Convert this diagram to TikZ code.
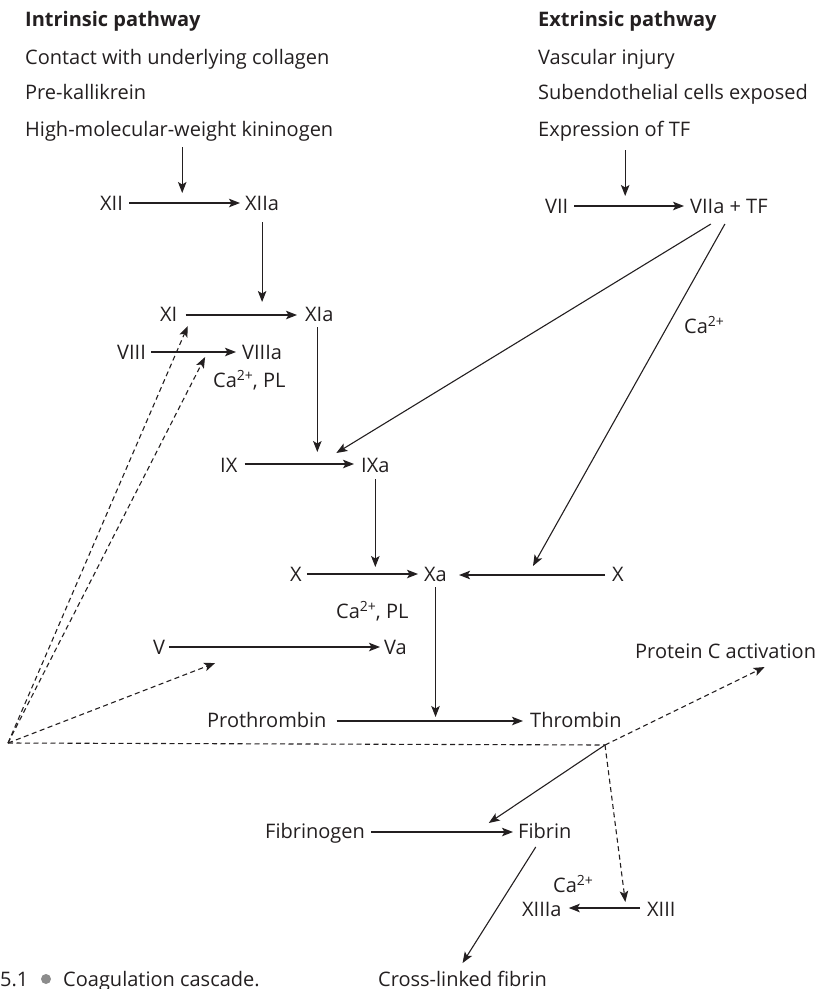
\documentclass[tikz,border=0pt]{standalone}
\usepackage{fontspec}
\setmainfont{Open Sans}
\usetikzlibrary{arrows.meta}
\definecolor{ink}{HTML}{231F20}
\definecolor{bulletgray}{HTML}{8C8C8C}
\newcommand{\catwo}{Ca\raisebox{0.62ex}{\fontsize{14}{14}\selectfont 2+}}
\begin{document}
\begin{tikzpicture}[x=1pt,y=-1pt,
  lbl/.style={anchor=base west, inner sep=0pt, text=ink, font=\fontsize{20}{24}\selectfont},
  hd/.style={lbl, font=\fontsize{20}{24}\selectfont\bfseries},
  arr/.style={draw=ink, line width=1.1pt, -{Stealth[length=11pt,width=8.5pt,inset=2.5pt]}},
  darr/.style={arr, dash pattern=on 5pt off 3.5pt},
  dline/.style={draw=ink, line width=1.1pt, dash pattern=on 5pt off 3.5pt},
]
\useasboundingbox (0,0) rectangle (815,989);
% headers
\node[hd] (intr) at (25,26) {Intrinsic pathway};
\node[lbl] (contact) at (25,64) {Contact with underlying collagen};
\node[lbl] (prek) at (25,99) {Pre-kallikrein};
\node[lbl] (hmwk) at (25,136) {High-molecular-weight kininogen};
\node[hd] (extr) at (538,26) {Extrinsic pathway};
\node[lbl] (vasc) at (538,64) {Vascular injury};
\node[lbl] (subendo) at (538,99) {Subendothelial cells exposed};
\node[lbl] (tf) at (538,136) {Expression of TF};
% factors
\node[lbl] (XII) at (100,210) {XII};
\node[lbl] (XIIa) at (245,210) {XIIa};
\node[lbl] (VII) at (545,213) {VII};
\node[lbl] (VIIa) at (690,213) {VIIa + TF};
\node[lbl] (XI) at (160,321) {XI};
\node[lbl] (XIa) at (305,321) {XIa};
\node[lbl] (VIII) at (117,359) {VIII};
\node[lbl] (VIIIa) at (242,359) {VIIIa};
\node[lbl] (caA) at (213,387) {\catwo, PL};
\node[lbl] (caB) at (684,333) {\catwo};
\node[lbl] (IX) at (220,472) {IX};
\node[lbl] (IXa) at (361,472) {IXa};
\node[lbl] (X) at (290,581) {X};
\node[lbl] (Xa) at (424,581) {Xa};
\node[lbl] (Xr) at (612,581) {X};
\node[lbl] (caC) at (336,618) {\catwo, PL};
\node[lbl] (V) at (153,654) {V};
\node[lbl] (Va) at (384,654) {Va};
\node[lbl] (prot) at (635,658) {Protein C activation};
\node[lbl] (proth) at (207,727) {Prothrombin};
\node[lbl] (thromb) at (530,727) {Thrombin};
\node[lbl] (fibg) at (265,838) {Fibrinogen};
\node[lbl] (fib) at (518,838) {Fibrin};
\node[lbl] (caD) at (553,892) {\catwo};
\node[lbl] (XIIIa) at (522,916) {XIIIa};
\node[lbl] (XIII) at (647,916) {XIII};
\node[lbl] (cross) at (378,986) {Cross-linked fibrin};
% caption
\node[lbl] (fignum) at (0,986) {5.1};
\node[circle, fill=bulletgray, minimum size=10pt, inner sep=0pt] (bul) at (46,979) {};
\node[lbl] (capt) at (63,986) {Coagulation cascade.};
% horizontal arrows
\draw[arr] ([xshift=6pt,yshift=7pt]XII.base east) -- ([xshift=-5pt,yshift=7pt]XIIa.base west);
\draw[arr] ([xshift=6pt,yshift=7pt]VII.base east) -- ([xshift=-6pt,yshift=7pt]VIIa.base west);
\draw[arr] ([xshift=8pt,yshift=6pt]XI.base east) -- ([xshift=-8pt,yshift=6pt]XIa.base west);
\draw[arr] ([xshift=5pt,yshift=7pt]VIII.base east) -- ([xshift=-6pt,yshift=7pt]VIIIa.base west);
\draw[arr] ([xshift=7pt,yshift=8pt]IX.base east) -- ([xshift=-7pt,yshift=8pt]IXa.base west);
\draw[arr] ([xshift=5pt,yshift=7pt]X.base east) -- ([xshift=-6pt,yshift=7pt]Xa.base west);
\draw[arr] ([xshift=-7pt,yshift=6pt]Xr.base west) -- ([xshift=12pt,yshift=6pt]Xa.base east);
\draw[arr] ([xshift=4pt,yshift=7pt]V.base east) -- ([xshift=-4pt,yshift=7pt]Va.base west);
\draw[arr] ([xshift=10pt,yshift=6pt]proth.base east) -- ([xshift=-7pt,yshift=6pt]thromb.base west);
\draw[arr] ([xshift=6pt,yshift=6pt]fibg.base east) -- ([xshift=-5pt,yshift=6pt]fib.base west);
\draw[arr] ([xshift=-7pt,yshift=8pt]XIII.base west) -- ([xshift=7pt,yshift=8pt]XIIIa.base east);
% vertical arrows
\draw[arr] ([xshift=3pt,yshift=-11pt]hmwk.base) -- ([xshift=3pt,yshift=17pt]hmwk.base |- XII.base);
\draw[arr] ([xshift=11pt,yshift=-14pt]tf.base) -- ([xshift=11pt,yshift=17pt]tf.base |- VII.base);
\draw[arr] ([yshift=-12pt]XIIa.base) -- ([yshift=19pt]XIIa.base |- XI.base);
\draw[arr] ([xshift=-2pt,yshift=-6pt]XIa.base) -- ([xshift=-2pt,yshift=20pt]XIa.base |- IX.base);
\draw[arr] ([yshift=-7pt]IXa.base) -- ([yshift=14pt]IXa.base |- X.base);
\draw[arr] ([yshift=-6pt]Xa.base) -- ([yshift=10pt]Xa.base |- proth.base);
% diagonals from VIIa + TF
\draw[arr] ([xshift=-18pt,yshift=-11pt]VIIa.base) -- ([xshift=-39pt,yshift=19pt]IXa.base);
\draw[arr] ([xshift=-4pt,yshift=-11pt]VIIa.base) -- ([xshift=-85pt,yshift=15pt]Xr.base);
% thrombin feedback
\coordinate (A) at (8,743);
\coordinate (J) at (605,745);
\draw[darr] (A) -- ([xshift=19pt,yshift=-5pt]XI.base);
\draw[darr] (A) -- ([xshift=-57pt,yshift=2pt]VIIIa.base);
\draw[darr] (A) -- ([xshift=56pt,yshift=-9pt]V.base);
\draw[dline] (A) -- (J);
\draw[darr] (J) -- ([xshift=39pt,yshift=-9pt]prot.base);
\draw[darr] (J) -- ([xshift=-36pt,yshift=14pt]XIII.base);
\draw[arr] (J) -- ([xshift=-56pt,yshift=15pt]fib.base);
\draw[arr] ([xshift=-9pt,yshift=-9pt]fib.base) -- ([yshift=23pt]cross.base);
\end{tikzpicture}
\end{document}
